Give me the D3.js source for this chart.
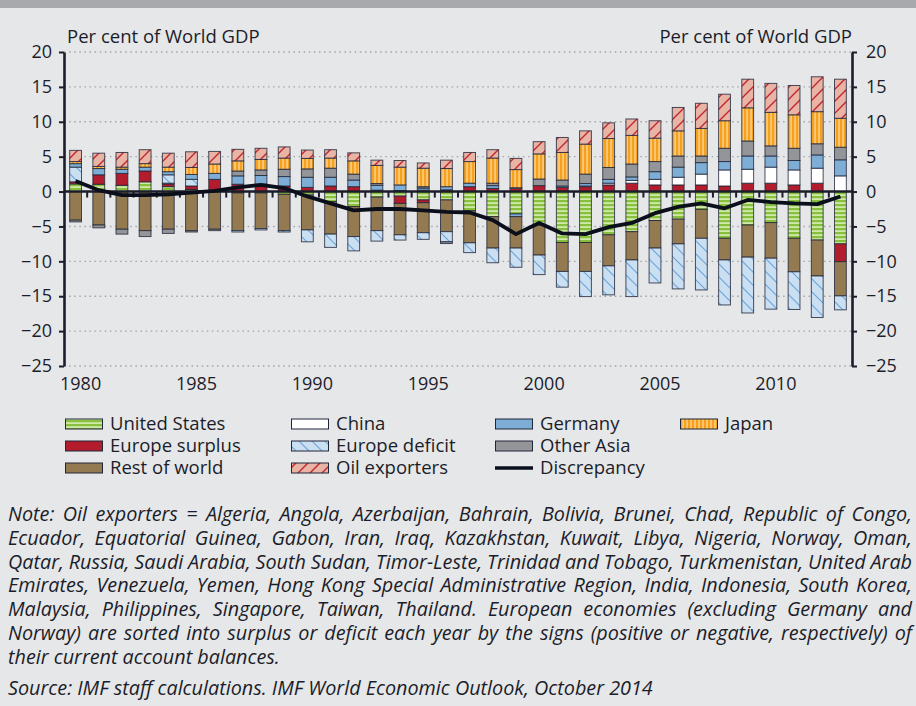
<!DOCTYPE html>
<html>
<head>
<meta charset="utf-8">
<title>Global current account imbalances</title>
<script src="https://cdn.jsdelivr.net/npm/d3@7"></script>
<style>
  html, body { margin: 0; padding: 0; background: #e6e7e8; }
  svg { display: block; font-family: "Open Sans", sans-serif; }
</style>
</head>
<body>
<svg id="chart" width="916" height="706"></svg>
<script>
// Current account balances, per cent of world GDP, 1980-2013
const years = d3.range(1980, 2014);

const unitedStates = [1.1, 1.05, 0.9, 1.4, 0.7, 0.3, 0, -0.2, -0.2, -0.4,
    -0.5, -1.45, -2.15, -0.8, -0.65, -1.2, -1.2, -2.75, -3.6, -3.2,
    -4.8, -7.3, -7.3, -6.2, -5.75, -4.15, -3.95, -2.55, -6.7, -4.8,
    -4.45, -6.7, -6.95, -7.5];
const china = [0, 0, 0, 0, 0.1, 0, 0, 0, 0, 0,
    0, 0, 0, 0, 0.15, 0.2, 0, 0, 0, 0.1,
    0, 0, 0.1, 0.25, 0.4, 0.8, 1.1, 1.55, 2.3, 2.0,
    2.3, 2.15, 2.15, 2.25];
const germany = [0.5, 0.9, 0.6, 0.55, 0.45, 0.7, 0.85, 1.2, 1.25, 1.35,
    1.45, 1.25, 0.95, 0.7, 0.8, 0.3, 0.45, 0.5, 0.4, -0.4,
    0, 0.2, 0.35, 0.55, 0.5, 1.1, 1.45, 1.65, 1.2, 1.9,
    1.6, 1.35, 1.9, 2.3];
const japan = [0.3, 0.3, 0.3, 0.5, 0.65, 1.0, 1.35, 1.45, 1.5, 1.6,
    1.5, 1.45, 1.9, 2.6, 2.55, 2.65, 2.6, 3.1, 3.6, 2.6,
    3.6, 3.95, 4.3, 4.15, 4.1, 3.35, 3.6, 3.95, 3.95, 4.75,
    4.8, 4.8, 4.6, 4.15];
const europeSurplus = [0.3, 1.35, 1.7, 1.55, 0.4, 0.5, 1.75, 1.05, 1.05, 0.8,
    0.6, 0.8, 0.7, 0.2, -1.05, -0.4, 0.25, 0.7, 0.45, 0.45,
    0.85, 0.6, 0.7, 0.95, 1.2, 0.95, 0.95, 0.95, 0.8, 1.2,
    1.2, 0.95, 1.2, -2.55];
const europeDeficit = [2.1, 0, 0, 0, 1.2, 0.95, 0, -0.2, -0.2, -0.2,
    -1.7, -1.9, -2.05, -1.5, -0.75, -0.95, -1.45, -1.4, -2.1, -2.75,
    -2.8, -2.25, -3.6, -4.15, -5.25, -5.0, -6.45, -7.4, -6.45, -8.0,
    -7.3, -5.4, -5.95, -2.0];
const otherAsia = [-0.25, -0.4, -0.7, -0.85, -0.6, -0.2, -0.2, 0.7, 0.8, 1.05,
    1.2, 1.3, 0.85, 0.25, 0, 0.2, -0.25, 0, 0.35, 0,
    0.95, 0.85, 1.35, 1.7, 1.85, 1.45, 1.6, 0.95, 1.9, 2.15,
    1.45, 1.75, 1.6, 1.8];
const oilExporters = [1.6, 1.9, 2.1, 2.0, 2.0, 2.25, 1.8, 1.65, 1.6, 1.6,
    1.2, 1.2, 1.15, 0.75, 0.95, 0.75, 1.2, 1.3, 1.2, 1.6,
    1.75, 2.15, 1.9, 2.25, 2.35, 2.5, 3.35, 3.6, 3.8, 4.1,
    4.15, 4.2, 5.0, 5.6];
const restOfWorld = [-4.1, -4.8, -5.4, -5.6, -5.4, -5.6, -5.4, -5.4, -5.1, -5.2,
    -5.0, -4.65, -4.3, -4.8, -4.5, -4.3, -4.55, -4.6, -4.5, -4.5,
    -4.3, -4.15, -4.15, -4.45, -4.05, -3.95, -3.55, -4.15, -3.1, -4.6,
    -5.1, -4.8, -5.15, -4.9];
const discrepancy = [1.5, 0.2, -0.5, -0.5, -0.4, -0.15, 0.1, 0.6, 0.95, 0.5,
    -0.7, -1.7, -2.7, -2.5, -2.5, -2.7, -2.9, -3.0, -4.1, -6.1,
    -4.5, -6.0, -6.1, -5.1, -4.5, -3.1, -2.2, -1.7, -2.4, -1.2,
    -1.5, -1.7, -1.8, -0.7];

const yTicks = d3.range(-25, 21, 5);
const xTickYears = [1980, 1985, 1990, 1995, 2000, 2005, 2010];

const axisTitle = 'Per cent of World GDP';
const noteLines = [
    'Note: Oil exporters = Algeria, Angola, Azerbaijan, Bahrain, Bolivia, Brunei, Chad, Republic of Congo,',
    'Ecuador, Equatorial Guinea, Gabon, Iran, Iraq, Kazakhstan, Kuwait, Libya, Nigeria, Norway, Oman,',
    'Qatar, Russia, Saudi Arabia, South Sudan, Timor-Leste, Trinidad and Tobago, Turkmenistan, United Arab',
    'Emirates, Venezuela, Yemen, Hong Kong Special Administrative Region, India, Indonesia, South Korea,',
    'Malaysia, Philippines, Singapore, Taiwan, Thailand. European economies (excluding Germany and',
    'Norway) are sorted into surplus or deficit each year by the signs (positive or negative, respectively) of',
    'their current account balances.'
];
const sourceLine = 'Source: IMF staff calculations. IMF World Economic Outlook, October 2014';

// Series: key, legend label, data, fill
const series = [
    { key: 'us', label: 'United States', values: unitedStates, fill: 'url(#pat-us)' },
    { key: 'china', label: 'China', values: china, fill: '#ffffff' },
    { key: 'germany', label: 'Germany', values: germany, fill: '#7eaed6' },
    { key: 'japan', label: 'Japan', values: japan, fill: 'url(#pat-japan)' },
    { key: 'eurSurplus', label: 'Europe surplus', values: europeSurplus, fill: '#b21c2c' },
    { key: 'eurDeficit', label: 'Europe deficit', values: europeDeficit, fill: 'url(#pat-eurdef)' },
    { key: 'otherAsia', label: 'Other Asia', values: otherAsia, fill: '#939598' },
    { key: 'rest', label: 'Rest of world', values: restOfWorld, fill: '#947a50' },
    { key: 'oil', label: 'Oil exporters', values: oilExporters, fill: 'url(#pat-oil)' }
];
const seriesByKey = Object.fromEntries(series.map(s => [s.key, s]));

// stacking order away from zero (positives go up, negatives go down)
const posOrder = ['us', 'eurSurplus', 'china', 'eurDeficit', 'germany', 'otherAsia', 'japan', 'oil', 'rest'];
const negOrder = ['us', 'eurSurplus', 'germany', 'china', 'japan', 'oil', 'rest', 'eurDeficit', 'otherAsia'];

const rows = years.map((year, i) => {
    const row = { year };
    series.forEach(s => { row[s.key] = s.values[i]; });
    return row;
});

const W = 916, H = 706;
const plot = { left: 64, right: 852, top: 52, bottom: 366 };
const ink = '#1b1d2a';
const barStroke = '#20263a';
const labelSize = '18.5px';

const svg = d3.select('#chart');
svg.append('rect').attr('width', W).attr('height', H).attr('fill', '#e6e7e8');
svg.append('rect').attr('width', W).attr('height', 8).attr('fill', '#a7a9ac');

// Fill patterns
const defs = svg.append('defs');

const usPat = defs.append('pattern').attr('id', 'pat-us')
    .attr('patternUnits', 'userSpaceOnUse').attr('width', 6).attr('height', 4);
usPat.append('rect').attr('width', 6).attr('height', 4).attr('fill', '#d0e8a8');
usPat.append('rect').attr('width', 6).attr('height', 2.2).attr('fill', '#86c03d');

const jpPat = defs.append('pattern').attr('id', 'pat-japan')
    .attr('patternUnits', 'userSpaceOnUse').attr('width', 4).attr('height', 6);
jpPat.append('rect').attr('width', 4).attr('height', 6).attr('fill', '#f5a11e');
jpPat.append('rect').attr('x', 2.4).attr('width', 1.3).attr('height', 6).attr('fill', '#fdd89c');

const edPat = defs.append('pattern').attr('id', 'pat-eurdef')
    .attr('patternUnits', 'userSpaceOnUse').attr('width', 13).attr('height', 13);
edPat.append('rect').attr('width', 13).attr('height', 13).attr('fill', '#cbdff2');
edPat.append('path').attr('d', 'M0,0L13,13M-4,9L4,17M9,-4L17,4')
    .attr('stroke', '#6ea6d8').attr('stroke-width', 1.2);

const oilPat = defs.append('pattern').attr('id', 'pat-oil')
    .attr('patternUnits', 'userSpaceOnUse').attr('width', 12).attr('height', 12);
oilPat.append('rect').attr('width', 12).attr('height', 12).attr('fill', '#e8b4a6');
oilPat.append('path').attr('d', 'M0,12L12,0M-4,4L4,-4M8,16L16,8')
    .attr('stroke', '#c2262e').attr('stroke-width', 1.4);

// Scales
const x = d3.scaleBand()
    .domain(years)
    .range([plot.left, plot.right])
    .paddingInner(0.49)
    .paddingOuter(0.245);
const y = d3.scaleLinear()
    .domain([-25, 20])
    .range([plot.bottom, plot.top]);

// Dotted gridlines
svg.append('g')
    .selectAll('line')
    .data(yTicks.filter(t => t !== 0))
    .join('line')
    .attr('x1', plot.left).attr('x2', plot.right)
    .attr('y1', d => y(d)).attr('y2', d => y(d))
    .attr('stroke', '#a3a4a7')
    .attr('stroke-width', 1.4)
    .attr('stroke-dasharray', '1.5,3.6');

// Stacked bars
const posStack = d3.stack().keys(posOrder).value((d, k) => Math.max(0, d[k]));
const negStack = d3.stack().keys(negOrder).value((d, k) => Math.min(0, d[k]));
const layers = [...posStack(rows), ...negStack(rows)];

const gBars = svg.append('g');
layers.forEach(layer => {
    const s = seriesByKey[layer.key];
    gBars.append('g')
        .selectAll('rect')
        .data(layer.filter(d => d[1] !== d[0]))
        .join('rect')
        .attr('x', d => x(d.data.year))
        .attr('width', x.bandwidth())
        .attr('y', d => y(Math.max(d[0], d[1])))
        .attr('height', d => Math.abs(y(d[0]) - y(d[1])))
        .attr('fill', s.fill)
        .attr('stroke', barStroke)
        .attr('stroke-opacity', 0.8)
        .attr('stroke-width', 1);
});

// Zero line with category ticks between the bars
const step = x.step();
const gap = (step - x.bandwidth()) / 2;
svg.append('line')
    .attr('x1', plot.left).attr('x2', plot.right)
    .attr('y1', y(0)).attr('y2', y(0))
    .attr('stroke', ink).attr('stroke-width', 2.6);
svg.append('g')
    .selectAll('line')
    .data(years.slice(1))
    .join('line')
    .attr('x1', d => x(d) - gap).attr('x2', d => x(d) - gap)
    .attr('y1', y(0)).attr('y2', y(0) + 6)
    .attr('stroke', ink).attr('stroke-width', 2);

// Discrepancy line
const line = d3.line()
    .x((d, i) => x(years[i]) + x.bandwidth() / 2)
    .y(d => y(d))
    .curve(d3.curveLinear);
svg.append('path')
    .datum(discrepancy)
    .attr('d', line)
    .attr('fill', 'none')
    .attr('stroke', '#0b0f1c')
    .attr('stroke-width', 3.8)
    .attr('stroke-linejoin', 'round');

// Y axes on both sides
function styleAxis(g) {
    g.select('.domain').attr('stroke', ink).attr('stroke-width', 2.6);
    g.selectAll('.tick line').attr('stroke', ink).attr('stroke-width', 2);
    g.selectAll('.tick text')
        .attr('fill', ink)
        .style('font-size', '18px')
        .style('font-family', '"Open Sans", sans-serif');
}
svg.append('g')
    .attr('transform', `translate(${plot.left},0)`)
    .call(d3.axisLeft(y).tickValues(yTicks).tickSize(5).tickSizeOuter(0).tickPadding(7))
    .call(styleAxis);
svg.append('g')
    .attr('transform', `translate(${plot.right},0)`)
    .call(d3.axisRight(y).tickValues(yTicks).tickSize(5).tickSizeOuter(0).tickPadding(9))
    .call(styleAxis);

// Year labels (sit a little right of the bar centres)
svg.append('g')
    .selectAll('text')
    .data(xTickYears)
    .join('text')
    .attr('x', d => x(d) + x.bandwidth() / 2 + 5)
    .attr('y', 390)
    .attr('text-anchor', 'middle')
    .attr('fill', ink)
    .style('font-size', '18px')
    .text(d => d);

// Axis titles
svg.append('text')
    .attr('x', 67).attr('y', 43)
    .attr('fill', ink).style('font-size', labelSize)
    .text(axisTitle);
svg.append('text')
    .attr('x', plot.right).attr('y', 43)
    .attr('text-anchor', 'end')
    .attr('fill', ink).style('font-size', labelSize)
    .text(axisTitle);

// Legend
const legendCols = [65, 291, 495, 680];
const legendRows = [424, 446, 468];
const legendItems = [
    { key: 'us', col: 0, row: 0 }, { key: 'china', col: 1, row: 0 },
    { key: 'germany', col: 2, row: 0 }, { key: 'japan', col: 3, row: 0 },
    { key: 'eurSurplus', col: 0, row: 1 }, { key: 'eurDeficit', col: 1, row: 1 },
    { key: 'otherAsia', col: 2, row: 1 },
    { key: 'rest', col: 0, row: 2 }, { key: 'oil', col: 1, row: 2 },
    { key: 'discrepancy', col: 2, row: 2 }
];
const gLegend = svg.append('g');
legendItems.forEach(item => {
    const gx = legendCols[item.col];
    const gy = legendRows[item.row];
    const g = gLegend.append('g').attr('transform', `translate(${gx},${gy})`);
    let label;
    if (item.key === 'discrepancy') {
        g.append('line')
            .attr('x1', 0).attr('x2', 38)
            .attr('stroke', '#0b0f1c').attr('stroke-width', 3.5);
        label = 'Discrepancy';
    } else {
        const s = seriesByKey[item.key];
        g.append('rect')
            .attr('x', 0.5).attr('y', -5)
            .attr('width', 37).attr('height', 10)
            .attr('fill', s.fill)
            .attr('stroke', barStroke).attr('stroke-width', 1);
        label = s.label;
    }
    g.append('text')
        .attr('x', 45).attr('y', 6)
        .attr('fill', ink)
        .style('font-size', labelSize)
        .text(label);
});

// Note and source
const noteLeft = 8, noteWidth = 904;
const noteSize = '19.8px';
const noteTexts = svg.append('g')
    .selectAll('text')
    .data(noteLines)
    .join('text')
    .attr('x', noteLeft)
    .attr('y', (d, i) => 521 + i * 23.8)
    .attr('fill', ink)
    .style('font-size', noteSize)
    .style('font-style', 'italic')
    .text(d => d);
svg.append('text')
    .attr('x', noteLeft).attr('y', 695)
    .attr('fill', ink)
    .style('font-size', noteSize)
    .style('font-style', 'italic')
    .text(sourceLine);

// justify every note line but the last one by adjusting the word gaps
function justify() {
    noteTexts.each(function (d, i) {
        if (i === noteLines.length - 1) return;
        const natural = this.getComputedTextLength();
        const gaps = (d.match(/ /g) || []).length;
        if (gaps) d3.select(this).style('word-spacing', `${(noteWidth - natural) / gaps}px`);
    });
}
if (document.fonts && document.fonts.ready) {
    document.fonts.ready.then(justify);
} else {
    justify();
}
</script>
</body>
</html>
